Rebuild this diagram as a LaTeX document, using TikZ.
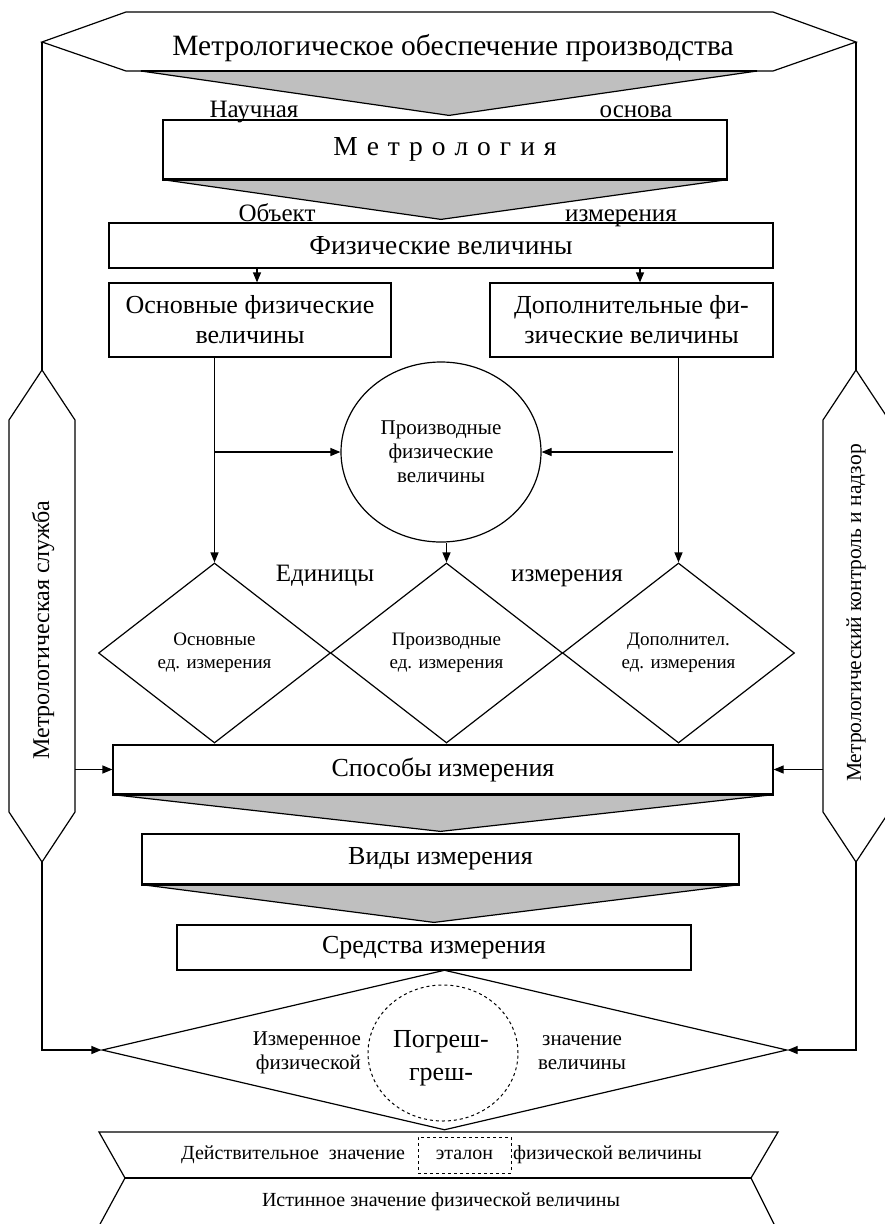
\documentclass[tikz,border=0pt]{standalone}
\usepackage{fontspec}
\setmainfont{Liberation Serif}
\usetikzlibrary{arrows.meta,shapes.geometric,positioning}
\tikzset{every picture/.style={line width=1.2pt}}
\tikzset{box/.style={draw, rectangle, inner sep=0pt, align=center}}
\tikzset{link/.style={-{Triangle[length=10pt, width=8pt]}}}
\tikzset{funnel/.style={draw, fill=gray!50}}
\tikzset{rim/.style={line width=2pt}}
\tikzset{ftitle/.style={font=\fontsize{29.5}{33}\selectfont}}
\tikzset{fhead/.style={font=\fontsize{27.5}{31}\selectfont}}
\tikzset{fbig/.style={font=\fontsize{26}{30}\selectfont}}
\tikzset{flabel/.style={font=\fontsize{25}{29}\selectfont}}
\tikzset{fmid/.style={font=\fontsize{21}{24}\selectfont}}
\tikzset{fdia/.style={font=\fontsize{19}{23}\selectfont}}
\tikzset{fbottom/.style={font=\fontsize{20}{23}\selectfont}}
\tikzset{fpog/.style={font=\fontsize{26}{33}\selectfont}}
\tikzset{fside/.style={font=\fontsize{24}{28}\selectfont}}
\tikzset{fright/.style={font=\fontsize{21.5}{26}\selectfont}}

\begin{document}
\begin{tikzpicture}[x=1pt, y=-1pt]
    \useasboundingbox (0,0) rectangle (885,1224);
    \coordinate (topL) at (42,42);
    \coordinate (topR) at (856,42);
    \draw (topL) -- (126,12) -- (773,12) -- (topR) -- (773,71) -- (126,71) -- cycle;
    \node [ftitle, anchor=base] (title) at (453,55) {Метрологическое обеспечение производства};
    \node [box, fhead, minimum width=564pt, minimum height=59pt] (metr) at (445,149.5) {\spaceskip=9pt М е т р о л о г и я};
    \node [box, fhead, minimum width=664pt, minimum height=45pt] (phys) at (441,245.5) {Физические величины};
    \draw [funnel] (141,71) -- (757,71) -- ([xshift=4pt, yshift=4pt]metr.north) -- cycle;
    \draw [rim] (141,71) -- (757,71);
    \draw [funnel] (metr.south west) -- (metr.south east) -- ([yshift=3pt]phys.north) -- cycle;
    \draw [rim] (metr.south west) -- (metr.south east);
    \node [flabel, anchor=base] (sci) at (254,117) {Научная};
    \node [flabel, anchor=base] (basis) at (636,117) {основа};
    \node [flabel, anchor=base] (obj) at (277,221) {Объект};
    \node [flabel, anchor=base] (objm) at (621,221) {измерения};
    \node [box, fbig, minimum width=282pt, minimum height=74pt] (basic) at (250,320) {Основные физические\\величины};
    \node [box, fbig, minimum width=283pt, minimum height=74pt] (extra) at (631.5,320) {Дополнительные фи-\\зические величины};
    \draw [link] ([xshift=7pt]basic.north |- phys.south) -- ([xshift=7pt]basic.north);
    \draw [link] ([xshift=8.5pt]extra.north |- phys.south) -- ([xshift=8.5pt]extra.north);
    \node [draw, ellipse, fmid, align=center, minimum width=200pt, minimum height=180pt, inner sep=0pt] (deriv) at (441,452) {Производные\\физические\\величины};
    \node [draw, diamond, fdia, align=center, minimum width=232pt, minimum height=180pt, inner sep=1pt] (dBasic) at (214.5,653) {Основные\\ед. измерения};
    \node [draw, diamond, fdia, align=center, minimum width=232pt, minimum height=180pt, inner sep=1pt] (dDeriv) at (446.5,653) {Производные\\ед. измерения};
    \node [draw, diamond, fdia, align=center, minimum width=232pt, minimum height=180pt, inner sep=1pt] (dExtra) at (678.5,653) {Дополнител.\\ед. измерения};
    \draw [link] (dBasic.north |- basic.south) -- (dBasic.north);
    \draw [link] (dExtra.north |- extra.south) -- (dExtra.north);
    \draw [link] (dBasic.north |- deriv.west) -- (deriv.west);
    \coordinate (hook) at ([xshift=-6pt]dExtra.north |- deriv.east);
    \draw [link] (hook) -- (deriv.east);
    \draw [link] (dDeriv.north |- deriv.south) -- (dDeriv.north);
    \node [flabel, anchor=base] (unitA) at (325,581) {Единицы};
    \node [flabel, anchor=base] (unitB) at (567,581) {измерения};
    \node [box, fbig, minimum width=660pt, minimum height=49pt] (ways) at (443,769.5) {Способы измерения};
    \node [box, fbig, minimum width=597pt, minimum height=50pt] (kinds) at (440.5,859) {Виды измерения};
    \node [box, fbig, minimum width=514pt, minimum height=45pt] (means) at (434,947.5) {Средства измерения};
    \draw [funnel] (ways.south west) -- (ways.south east) -- ([yshift=2pt]kinds.north) -- cycle;
    \draw [rim] (ways.south west) -- (ways.south east);
    \draw [funnel] (kinds.south west) -- (kinds.south east) -- ([yshift=2pt]means.north) -- cycle;
    \draw [rim] (kinds.south west) -- (kinds.south east);
    \node [draw, diamond, minimum width=685pt, minimum height=160pt, inner sep=0pt] (err) at (444.5,1050) {};
    \node [draw, dashed, line width=1pt, ellipse, minimum width=150pt, minimum height=136pt, inner sep=0pt] (errc) at (443,1053) {};
    \node [fpog, align=center] (errTxt) at (441,1058) {Погреш-\\греш-};
    \node [fmid, align=right, inner sep=0pt, left=6pt of errc] (meas) {Измеренное\\физической};
    \node [fmid, align=center, inner sep=0pt, right=19pt of errc] (val) {значение\\величины};
    \coordinate (msTop) at (42,370);
    \coordinate (msBot) at (42,862);
    \coordinate (msR) at (75,769.5);
    \draw (msTop) -- (75,420) -- (75,812) -- (msBot) -- (9,812) -- (9,420) -- cycle;
    \node [fside, rotate=90] (msTxt) at (43,630) {Метрологическая служба};
    \coordinate (mcTop) at (856,370);
    \coordinate (mcBot) at (856,862);
    \coordinate (mcL) at (823,769.5);
    \draw (mcTop) -- (889,420) -- (889,812) -- (mcBot) -- (823,812) -- (823,420) -- cycle;
    \node [fright, rotate=90] (mcTxt) at (856,613) {Метрологический контроль и надзор};
    \draw (topL) -- (msTop);
    \draw (topR) -- (mcTop);
    \draw [link] (msR) -- (ways.west);
    \draw [link] (mcL) -- (ways.east);
    \draw [link] (msBot) |- (err.west);
    \draw [link] (mcBot) |- (err.east);
    \draw (99,1132) -- (778,1132) -- (751,1178) -- (125,1178) -- cycle;
    \draw (99,1226) -- (125,1178);
    \draw (775,1226) -- (751,1178);
    \draw [rim] (125,1178) -- (751,1178);
    \node [box, dashed, line width=1pt, fbottom, minimum width=93pt, minimum height=36pt] (etalon) at (464.5,1155) {эталон};
    \node [fbottom, inner sep=0pt, left=12pt of etalon] (actual) {Действительное~ значение};
    \node [fbottom, inner sep=0pt, right=1pt of etalon] (actualB) {физической величины};
    \node [fbottom] (truev) at (441,1202) {Истинное значение физической величины};
\end{tikzpicture}
\end{document}
